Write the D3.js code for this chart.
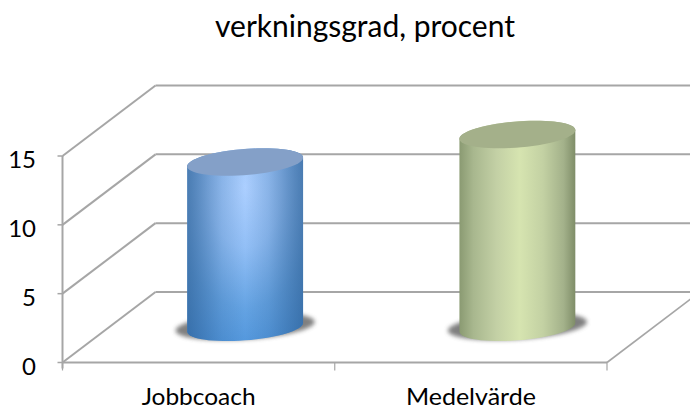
<!DOCTYPE html>
<html><head><meta charset="utf-8">
<script src="https://cdn.jsdelivr.net/npm/d3@7"></script>
<style>html,body{margin:0;padding:0;background:#fff;overflow:hidden}text{font-family:Lato,"Open Sans",sans-serif;fill:#000}</style>
</head><body>
<script>
const titleText = "verkningsgrad, procent";
const categories = ["Jobbcoach", "Medelvärde"];
const values = [12, 14];
const yTicks = [0, 5, 10, 15];

const W = 690, H = 410;
const left = 62.5, right = 607, floorY = 362.5, topY = 156;
const depthX = 93, depthY = -70.5;
const svg = d3.select("body").append("svg").attr("width", W).attr("height", H).style("display","block");
const defs = svg.append("defs");

const x = d3.scaleBand().domain(categories).range([left, right]);
const y = d3.scaleLinear().domain([0, 15]).range([floorY, topY]);
const grid = "#a6a6a6";

svg.append("text").attr("x", 365).attr("y", 37).attr("text-anchor","middle")
  .attr("font-size", 30).attr("textLength", 300).attr("lengthAdjust","spacingAndGlyphs").text(titleText);

// walls
const g = svg.append("g").attr("stroke", grid).attr("fill","none").attr("stroke-width", 2);
yTicks.forEach(t => {
  g.append("line").attr("x1", left).attr("y1", y(t)).attr("x2", left+depthX).attr("y2", y(t)+depthY);
  g.append("line").attr("x1", left+depthX).attr("y1", y(t)+depthY).attr("x2", W).attr("y2", y(t)+depthY);
  g.append("line").attr("x1", left-5).attr("y1", y(t)).attr("x2", left).attr("y2", y(t)).attr("stroke-width",1.5);
});
g.append("line").attr("x1", left).attr("y1", y(0)+6).attr("x2", left).attr("y2", y(15));
g.append("line").attr("x1", left).attr("y1", y(0)).attr("x2", right).attr("y2", y(0));
g.append("line").attr("x1", right).attr("y1", y(0)).attr("x2", right+depthX).attr("y2", y(0)+depthY).attr("stroke-width",1.6);
[left, left + x.step(), right].forEach(v =>
  g.append("line").attr("x1", v).attr("y1", y(0)).attr("x2", v).attr("y2", y(0)+8).attr("stroke-width",1.2));

// tick labels
yTicks.forEach(t => svg.append("text").attr("x", 36).attr("y", y(t)+12).attr("text-anchor","end")
  .attr("font-size", 24).text(t));
categories.forEach(c => svg.append("text").attr("x", x(c)+x.bandwidth()/2).attr("y", 405).attr("text-anchor","middle")
  .attr("font-size", 24).attr("textLength", c === "Jobbcoach" ? 114 : 130).attr("lengthAdjust","spacingAndGlyphs").text(c));

// gradients
defs.append("filter").attr("id","blur").attr("x","-20%").attr("y","-40%").attr("width","140%").attr("height","180%")
  .append("feGaussianBlur").attr("stdDeviation",2);
function stops(grad, list){ list.forEach(([o,c,a]) => grad.append("stop").attr("offset",o).attr("stop-color",c).attr("stop-opacity",a===undefined?1:a)); }
const blueV = defs.append("radialGradient").attr("id","blueBody").attr("gradientUnits","objectBoundingBox")
  .attr("cx",.5).attr("cy",.2).attr("r",.9);
stops(blueV, [[0,"#accfff"],[.35,"#92bff6"],[.7,"#64a3e3"],[1,"#4b92da"]]);
const blueS = defs.append("linearGradient").attr("id","blueSide");
stops(blueS, [[0,"#2c5a8c",.6],[.3,"#2c5a8c",.16],[.5,"#2c5a8c",0],[.7,"#2c5a8c",.16],[1,"#2c5a8c",.6]]);
const greenB = defs.append("linearGradient").attr("id","greenBody");
stops(greenB, [[0,"#8a9a72"],[.12,"#a8b78e"],[.32,"#c3d0a5"],[.52,"#d6e4b0"],[.72,"#c3d1a3"],[.9,"#a3b18a"],[1,"#7f8d68"]]);

const cylColors = ["#84a0c8", "#a4b08a"];
const fills = [["url(#blueBody)","url(#blueSide)"],["url(#greenBody)",null]];
const r = 55, k = 0.196;
const line = d3.line();
function pt(cx, cy, t){ return [cx + r*Math.cos(t) + k*depthX*Math.sin(t), cy + k*depthY*Math.sin(t)]; }
const t0 = Math.atan2(k*depthX, r);          // rightmost parameter
function ell(cx, cy){ return d3.range(0,64).map(i => pt(cx, cy, i/64*2*Math.PI)); }

categories.forEach((c,i) => {
  const cx = x(c) + x.bandwidth()/2 + depthX/2;
  const by = y(0) + depthY/2;
  const ty = y(values[i]) + depthY/2;
  // shadow
  const sx = cx, sy = by - 1;
  const sh = ell(sx, sy).map(p=>[sx+(p[0]-sx)*1.2, sy+(p[1]-sy)]);
  svg.append("path").attr("d", line(sh)+"Z").attr("fill","#555").attr("opacity",.75).attr("filter","url(#blur)");
  // body: front half of bottom ellipse, then back half of top ellipse
  const front = d3.range(0,33).map(j => pt(cx, by, t0 - j/32*Math.PI));
  const top = d3.range(0,33).map(j => pt(cx, ty, t0 - Math.PI - j/32*Math.PI));
  const outline = front.concat(top);
  svg.append("path").attr("d", line(outline)+"Z").attr("fill", fills[i][0]);
  if (fills[i][1]) svg.append("path").attr("d", line(outline)+"Z").attr("fill", fills[i][1]);
  svg.append("path").attr("d", line(ell(cx,ty))+"Z").attr("fill", cylColors[i]);
});
</script>
</body></html>
